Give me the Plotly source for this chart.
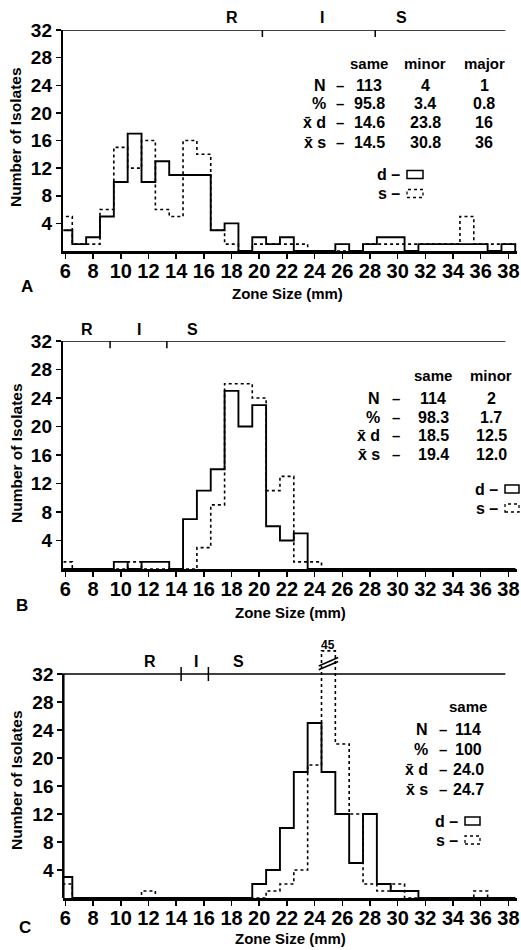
import plotly.graph_objects as go

W, H = 521, 950
FONT = "Liberation Sans, Arial, sans-serif"

# ---------------- data ----------------
zone_sizes = list(range(6, 39))
y_ticks = [4, 8, 12, 16, 20, 24, 28, 32]
x_ticks = list(range(6, 39, 2))

A_d = [3, 1, 2, 5, 10, 17, 10, 13, 11, 11, 11, 3, 4, 0, 2, 1, 2, 0, 0, 0, 1, 0, 1, 2, 2, 0, 1, 1, 1, 1, 1, 0, 1]
A_s = [5, 1, 1, 6, 15, 12, 16, 6, 5, 16, 14, 3, 1, 0, 1, 1, 1, 1, 0, 0, 0, 0, 1, 1, 1, 1, 1, 1, 1, 5, 1, 1, 1]
B_d = [0, 0, 0, 0, 1, 0, 1, 1, 0, 7, 11, 14, 25, 20, 23, 6, 4, 5, 0, 0, 0, 0, 0, 0, 0, 0, 0, 0, 0, 0, 0, 0, 0]
B_s = [1, 0, 0, 0, 0, 1, 0, 0, 0, 0, 3, 9, 26, 26, 24, 11, 13, 1, 1, 0, 0, 0, 0, 0, 0, 0, 0, 0, 0, 0, 0, 0, 0]
C_d = [3, 0, 0, 0, 0, 0, 0, 0, 0, 0, 0, 0, 0, 0, 2, 4, 10, 18, 25, 18, 12, 5, 12, 2, 1, 1, 0, 0, 0, 0, 0, 0, 0]
C_s = [2, 0, 0, 0, 0, 0, 1, 0, 0, 0, 0, 0, 0, 0, 0, 1, 2, 4, 19, 45, 22, 12, 2, 1, 2, 0, 0, 0, 0, 0, 1, 0, 0]

A_breaks = [20.23, 28.38]
B_breaks = [9.23, 13.33]
C_breaks = [14.36, 16.33]
A_ris_pos = [18.0, 24.53, 30.3]
B_ris_pos = [7.59, 11.35, 15.2]
C_ris_pos = [12.12, 15.44, 18.5]
ris_labels = ["R", "I", "S"]

row_labels = ["N", "%", "x\u0304 d", "x\u0304 s"]
A_cols = ["same", "minor", "major"]
A_vals = [["113", "4", "1"], ["95.8", "3.4", "0.8"], ["14.6", "23.8", "16"], ["14.5", "30.8", "36"]]
B_cols = ["same", "minor"]
B_vals = [["114", "2"], ["98.3", "1.7"], ["18.5", "12.5"], ["19.4", "12.0"]]
C_cols = ["same"]
C_vals = [["114"], ["100"], ["24.0"], ["24.7"]]

panel_letters = ["A", "B", "C"]
x_title = "Zone Size (mm)"
y_title = "Number of Isolates"
C_break_cap = 35.3  # display height of the broken (off-scale) bar

# ---------------- layout helpers ----------------
X_RANGE = [5.85, 38.6]
X_DOM = [63.3 / W, 516.7 / W]


def py(y):
    return 1 - y / H


def px(x):
    return x / W


def steps(counts):
    xs = [zone_sizes[0] - 0.5]
    ys = [0]
    for z, c in zip(zone_sizes, counts):
        xs.append(z - 0.5)
        ys.append(c)
    xs.append(zone_sizes[-1] + 0.5)
    ys.append(0)
    return xs, ys


panels = [
    dict(d=A_d, s=A_s, breaks=A_breaks, rispos=A_ris_pos, cols=A_cols, vals=A_vals,
         y0=251, y32=30, ytop=32, ris_y=17,
         col_x=[369, 425, 484], lab_x=328, dash_x=340, head_y=63, row_y=[85, 104, 123, 142],
         leg_x=[407, 423], leg_y=[(170.5, 178.5), (189.5, 197.5)],
         letter=(27, 286), xt=(287, 293), yt=(16, 137)),
    dict(d=B_d, s=B_s, breaks=B_breaks, rispos=B_ris_pos, cols=B_cols, vals=B_vals,
         y0=569, y32=341, ytop=32, ris_y=330,
         col_x=[433, 491], lab_x=382, dash_x=396, head_y=376, row_y=[398, 417, 436, 455],
         leg_x=[505, 519], leg_y=[(485, 493), (504, 512)],
         letter=(22, 605), xt=(290, 612), yt=(16, 453)),
    dict(d=C_d, s=C_s, breaks=C_breaks, rispos=C_ris_pos, cols=C_cols, vals=C_vals,
         y0=898, y32=674, ytop=36, ris_y=661,
         col_x=[468], lab_x=430, dash_x=443, head_y=706, row_y=[729, 749, 769, 789],
         leg_x=[465, 480], leg_y=[(817, 825), (836, 844)],
         letter=(25, 927), xt=(290, 938), yt=(16, 780)),
]

fig = go.Figure()
shapes = []
annotations = []
bold = dict(family=FONT, color="black", weight="bold")


def ann(text, x, y, size, xref="paper", yref="paper", xanchor="center", **kw):
    annotations.append(dict(text=text, xref=xref, x=x, yref=yref, y=y, showarrow=False,
                            font=dict(size=size, **bold), xanchor=xanchor, yanchor="middle", **kw))


for i, p in enumerate(panels):
    n = "" if i == 0 else str(i + 1)
    xa, ya = "x" + n, "y" + n
    unit = (p["y0"] - p["y32"]) / 32.0
    ytop_px = p["y0"] - p["ytop"] * unit

    # histograms
    xs, ys = steps(p["d"])
    fig.add_trace(go.Scatter(x=xs, y=ys, mode="lines", line=dict(color="black", width=1.9, shape="hv"),
                             xaxis=xa, yaxis=ya, showlegend=False, hoverinfo="skip"))
    s_disp = [min(v, C_break_cap) for v in p["s"]]
    xs, ys = steps(s_disp)
    fig.add_trace(go.Scatter(x=xs, y=ys, mode="lines", line=dict(color="black", width=1.6, dash="dot", shape="hv"),
                             xaxis=xa, yaxis=ya, showlegend=False, hoverinfo="skip"))

    fig.layout["xaxis" + n] = dict(
        domain=X_DOM, range=X_RANGE, anchor=ya, tickvals=x_ticks, ticktext=[str(t) for t in x_ticks],
        ticks="outside", ticklen=5, tickwidth=1.5, tickcolor="black", showline=True, linewidth=2.5,
        linecolor="black", showgrid=False, zeroline=False, fixedrange=True, automargin=False,
        ticklabelstandoff=-5, tickfont=dict(size=20, **bold))
    fig.layout["yaxis" + n] = dict(
        domain=[py(p["y0"]), py(ytop_px)], range=[0, p["ytop"]], anchor=xa, tickvals=y_ticks,
        ticktext=[str(t) for t in y_ticks], ticks="outside", ticklen=5, tickwidth=1.5, tickcolor="black",
        showline=(p["ytop"] == 32), linewidth=2.5, linecolor="black", showgrid=False, zeroline=False,
        fixedrange=True, automargin=False, tickfont=dict(size=19, **bold))

    if p["ytop"] != 32:
        shapes.append(dict(type="line", xref=xa + " domain", x0=0, x1=0, yref=ya, y0=0, y1=32,
                           line=dict(color="black", width=2.5)))

    # top (32) line and R/I/S breakpoints
    shapes.append(dict(type="line", xref=xa + " domain", x0=-0.01, x1=0.975, yref=ya, y0=32, y1=32,
                       line=dict(color="black", width=1.5)))
    for b in p["breaks"]:
        shapes.append(dict(type="line", xref=xa, x0=b, x1=b, yref=ya, y0=31.0, y1=33.0,
                           line=dict(color="black", width=1.5)))
    for lab, xpos in zip(ris_labels, p["rispos"]):
        ann(lab, xpos, py(p["ris_y"]), 16, xref=xa)

    # stats table
    for cx, c in zip(p["col_x"], p["cols"]):
        ann(c, px(cx), py(p["head_y"]), 15)
    for r, (lab, vals) in enumerate(zip(row_labels, p["vals"])):
        yy = py(p["row_y"][r])
        ann(lab, px(p["lab_x"]), yy, 16, xanchor="right")
        ann("\u2013", px(p["dash_x"]), yy, 15)
        for cx, v in zip(p["col_x"], vals):
            ann(v, px(cx), yy, 16)

    # legend glyphs
    for k, (lab, dash) in enumerate([("d \u2013", "solid"), ("s \u2013", "dot")]):
        y0b, y1b = p["leg_y"][k]
        shapes.append(dict(type="rect", xref="paper", yref="paper", x0=px(p["leg_x"][0]), x1=px(p["leg_x"][1]),
                           y0=py(y1b), y1=py(y0b),
                           line=dict(color="black", width=1.5 if dash == "solid" else 1.3, dash=dash)))
        ann(lab, px(p["leg_x"][0] - 5), py((y0b + y1b) / 2), 16, xanchor="right")

    # letters & titles
    ann(panel_letters[i], px(p["letter"][0]), py(p["letter"][1]), 17)
    ann(x_title, px(p["xt"][0]), py(p["xt"][1]), 15)
    ann(y_title, px(p["yt"][0]), py(p["yt"][1]), 15.5, textangle=-90)

# broken bar marker in panel C
c_peak = max(C_s)
c_peak_zone = zone_sizes[C_s.index(c_peak)]
for off in (0.0, 0.55):
    shapes.append(dict(type="line", xref="x3", yref="y3", x0=c_peak_zone - 0.7, x1=c_peak_zone + 0.7,
                       y0=32.6 + off, y1=33.8 + off, line=dict(color="black", width=1.6)))
ann(str(c_peak), c_peak_zone, py(645), 12, xref="x3")

fig.update_layout(
    width=W, height=H, margin=dict(l=0, r=0, t=0, b=0, autoexpand=False),
    paper_bgcolor="white", plot_bgcolor="white",
    shapes=shapes, annotations=annotations, showlegend=False,
    font=dict(family=FONT, color="black"),
)

fig.write_html("out.html", config={"displayModeBar": False, "staticPlot": True},
               post_script="document.body.style.margin='0px';document.body.style.padding='0px';")
